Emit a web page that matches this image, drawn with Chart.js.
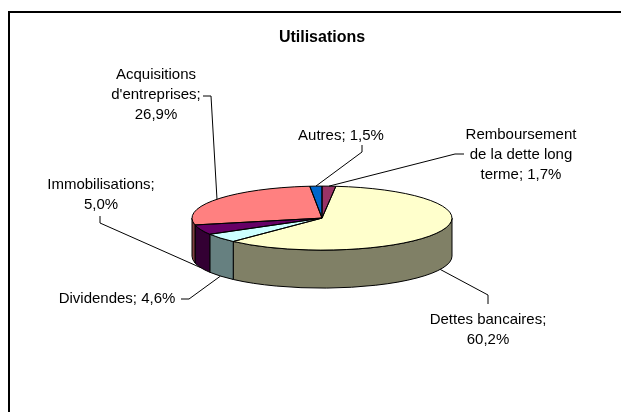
<!DOCTYPE html>
<html>
<head>
<meta charset="utf-8">
<script src="https://cdn.jsdelivr.net/npm/chart.js@4.4.1/dist/chart.umd.min.js"></script>
<style>
    html, body { margin: 0; padding: 0; background: #fff; }
    #wrap { width: 621px; height: 412px; }
</style>
</head>
<body>
<div id="wrap"><canvas id="pie" width="621" height="412"></canvas></div>
<script>
// data (slices run clockwise from 12 o'clock, as Excel draws them)
var categories = ['Remboursement de la dette long terme', 'Dettes bancaires', 'Dividendes', 'Immobilisations', "Acquisitions d'entreprises", 'Autres'];
var shares = [1.7, 60.2, 4.6, 5.0, 26.9, 1.5];

var topColors = ['#993366', '#FFFFCC', '#CCFFFF', '#660066', '#FF8080', '#0066CC'];
var sideColors = ['#4d1933', '#808066', '#668080', '#330033', '#804040', '#003366'];

// label boxes were dragged by hand in the sheet: text centre (first line), elbow, attach point
var labelLayout = [
    { x: 521, y: 135, ex: 455, ey: 154, ax: 464, ay: 154 },
    { x: 488, y: 320, ex: 488, ey: 295, ax: 488, ay: 304 },
    { x: 117, y: 299, ex: 189, ey: 299, ax: 181, ay: 299 },
    { x: 101, y: 185, ex: 100, ey: 223, ax: 100, ay: 216 },
    { x: 156, y: 75, ex: 211, ey: 96, ax: 203, ay: 96 },
    { x: 341, y: 136, ex: 362, ey: 152, ax: 362, ay: 145 }
];

var TILT = 32 / 130;   // ry / rx of the top face
var DEPTH = 38;        // height of the cylinder wall
var FONT = '"Liberation Sans", Arial, sans-serif';

function fmtPct(v) {
    return v.toFixed(1).replace('.', ',') + '%';
}

function wrapText(ctx, text, maxW) {
    var words = text.split(' '), lines = [], cur = '';
    words.forEach(function (w) {
        var t = cur ? cur + ' ' + w : w;
        if (cur && ctx.measureText(t).width > maxW) {
            lines.push(cur);
            cur = w;
        } else {
            cur = t;
        }
    });
    if (cur) lines.push(cur);
    return lines;
}

var pie3d = {
    id: 'pie3d',
    beforeDraw: function (chart) {
        var ctx = chart.ctx;
        ctx.save();
        ctx.fillStyle = '#fff';
        ctx.fillRect(0, 0, chart.width, chart.height);
        ctx.strokeStyle = '#000';
        ctx.lineWidth = 2;
        ctx.beginPath();
        ctx.moveTo(9, chart.height);
        ctx.lineTo(9, 12);
        ctx.lineTo(chart.width, 12);
        ctx.stroke();
        ctx.restore();
    },
    beforeDatasetsDraw: function (chart) {
        var ctx = chart.ctx;
        var arcs = chart.getDatasetMeta(0).data;
        if (!arcs.length) return;
        var cx = arcs[0].x, cy = arcs[0].y, rx = arcs[0].outerRadius, ry = rx * TILT;
        ctx.save();
        ctx.lineWidth = 1;
        ctx.strokeStyle = '#000';
        ctx.lineJoin = 'round';
        arcs.forEach(function (arc, i) {
            // only the front half of the wall is visible
            var s = Math.max(arc.startAngle, 0), e = Math.min(arc.endAngle, Math.PI);
            if (e <= s) return;
            ctx.beginPath();
            ctx.ellipse(cx, cy, rx, ry, 0, s, e);
            ctx.lineTo(cx + rx * Math.cos(e), cy + DEPTH + ry * Math.sin(e));
            ctx.ellipse(cx, cy + DEPTH, rx, ry, 0, e, s, true);
            ctx.closePath();
            ctx.fillStyle = sideColors[i];
            ctx.fill();
            ctx.stroke();
        });
        ctx.restore();
        // squash the library's own arcs into the top face
        ctx.save();
        ctx.translate(0, cy);
        ctx.scale(1, TILT);
        ctx.translate(0, -cy);
    },
    afterDatasetsDraw: function (chart) {
        var ctx = chart.ctx;
        ctx.restore();
        var arcs = chart.getDatasetMeta(0).data;
        if (!arcs.length) return;
        var cx = arcs[0].x, cy = arcs[0].y, rx = arcs[0].outerRadius, ry = rx * TILT;

        ctx.save();
        ctx.lineWidth = 1;
        ctx.strokeStyle = '#000';
        ctx.lineJoin = 'round';
        arcs.forEach(function (arc) {
            ctx.beginPath();
            ctx.moveTo(cx, cy);
            ctx.ellipse(cx, cy, rx, ry, 0, arc.startAngle, arc.endAngle);
            ctx.closePath();
            ctx.stroke();
        });

        // labels + leader lines
        ctx.font = '15px ' + FONT;
        ctx.fillStyle = '#000';
        ctx.textAlign = 'center';
        ctx.textBaseline = 'middle';
        arcs.forEach(function (arc, i) {
            var L = labelLayout[i];
            var mid = (arc.startAngle + arc.endAngle) / 2;
            var px = cx + rx * Math.cos(mid);
            var py = cy + ry * Math.sin(mid);
            if (Math.sin(mid) > 0) py += DEPTH;
            ctx.beginPath();
            ctx.moveTo(px, py);
            ctx.lineTo(L.ex, L.ey);
            ctx.lineTo(L.ax, L.ay);
            ctx.stroke();

            var lines = wrapText(ctx, categories[i] + '; ' + fmtPct(shares[i]), 125);
            lines.forEach(function (ln, k) {
                ctx.fillText(ln, L.x, L.y + k * 20);
            });
        });
        ctx.restore();
    }
};

new Chart(document.getElementById('pie'), {
    type: 'pie',
    data: {
        labels: categories,
        datasets: [{
            data: shares,
            backgroundColor: topColors,
            borderWidth: 0,
            radius: 130,
            hoverOffset: 0
        }]
    },
    options: {
        responsive: false,
        animation: false,
        events: [],
        layout: { padding: { left: 192, right: 169, top: 0, bottom: 36 } },
        plugins: {
            legend: { display: false },
            tooltip: { enabled: false },
            title: {
                display: true,
                text: 'Utilisations',
                color: '#000',
                font: { family: FONT, size: 16, weight: 'bold', lineHeight: 1.2 },
                padding: { top: 28, bottom: 13 }
            }
        }
    },
    plugins: [pie3d]
});
</script>
</body>
</html>
